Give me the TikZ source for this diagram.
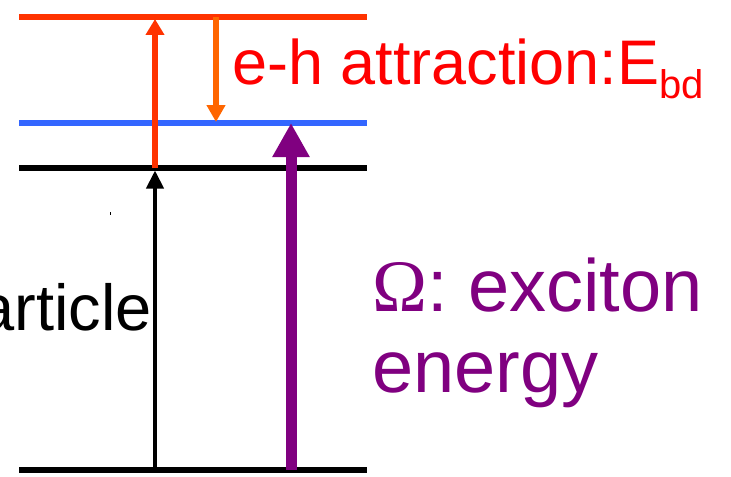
\documentclass[tikz,border=0pt]{standalone}
\usepackage{fontspec}
\setmainfont{Liberation Sans}
\newfontfamily\seriffont{Liberation Serif}
\usetikzlibrary{arrows.meta}
\definecolor{lvred}{HTML}{FF3300}
\definecolor{lvblue}{HTML}{3366FF}
\definecolor{lvorange}{HTML}{FF6600}
\definecolor{lvpurple}{HTML}{800080}
\definecolor{txtred}{HTML}{FF0000}
\begin{document}
\begin{tikzpicture}[x=0.5pt,y=-0.5pt,
  level/.style={line width=2.8pt},
  lbl/.style={inner sep=0pt,outer sep=0pt}]
\useasboundingbox (0,0) rectangle (731,476);
% level end points
\coordinate (rl) at (19,17);  \coordinate (rr) at (367,17);
\coordinate (bl) at (19,123); \coordinate (br) at (367,123);
\coordinate (kl) at (19,168); \coordinate (kr) at (367,168);
\coordinate (gl) at (19,470); \coordinate (gr) at (367,470);
% levels
\draw[level,lvred] (rl) -- (rr);
\draw[level,lvblue,line width=3pt] (bl) -- (br);
\draw[level,black,line width=3pt] (kl) -- (kr);
\draw[level,black] (gl) -- (gr);
% arrow end points
\coordinate (a1s) at (155,470); \coordinate (a1e) at (155,170.5);
\coordinate (a2s) at (155,168); \coordinate (a2e) at (155,19);
\coordinate (a3s) at (216,17);  \coordinate (a3e) at (216,122);
\coordinate (a4s) at (291,470); \coordinate (a4e) at (291,123);
% arrows
\draw[black,line width=2pt,-{Triangle[width=8.5pt,length=9pt]}] (a1s) -- (a1e);
\draw[lvred,line width=2.6pt,-{Triangle[width=9pt,length=8pt]}] (a2s) -- (a2e);
\draw[lvorange,line width=2.6pt,-{Triangle[width=9pt,length=8.5pt]}] (a3s) -- (a3e);
\draw[lvpurple,line width=5.5pt,-{Triangle[width=17.5pt,length=17pt]}] (a4s) -- (a4e);
% labels
\node[lbl,anchor=base west,text=txtred,font=\fontsize{31.5}{38}\selectfont] (eh) at (232,84)
  {e-h attraction:E\raisebox{-7pt}{\fontsize{20}{24}\selectfont bd}};
\node[lbl,anchor=base west,text=lvpurple,font=\fontsize{37}{44}\selectfont] (om) at (372,311)
  {{\seriffont\char"03A9}: exciton};
\node[lbl,anchor=base west,text=lvpurple,font=\fontsize{37}{44}\selectfont] (en) at (372,392)
  {energy};
\node[lbl,anchor=base east,text=black,font=\fontsize{32.5}{39}\selectfont] (pa) at (152,330)
  {article};
% tiny speck
\fill[black] (109.5,211.5) rectangle (110.8,214.5);
\end{tikzpicture}
\end{document}
